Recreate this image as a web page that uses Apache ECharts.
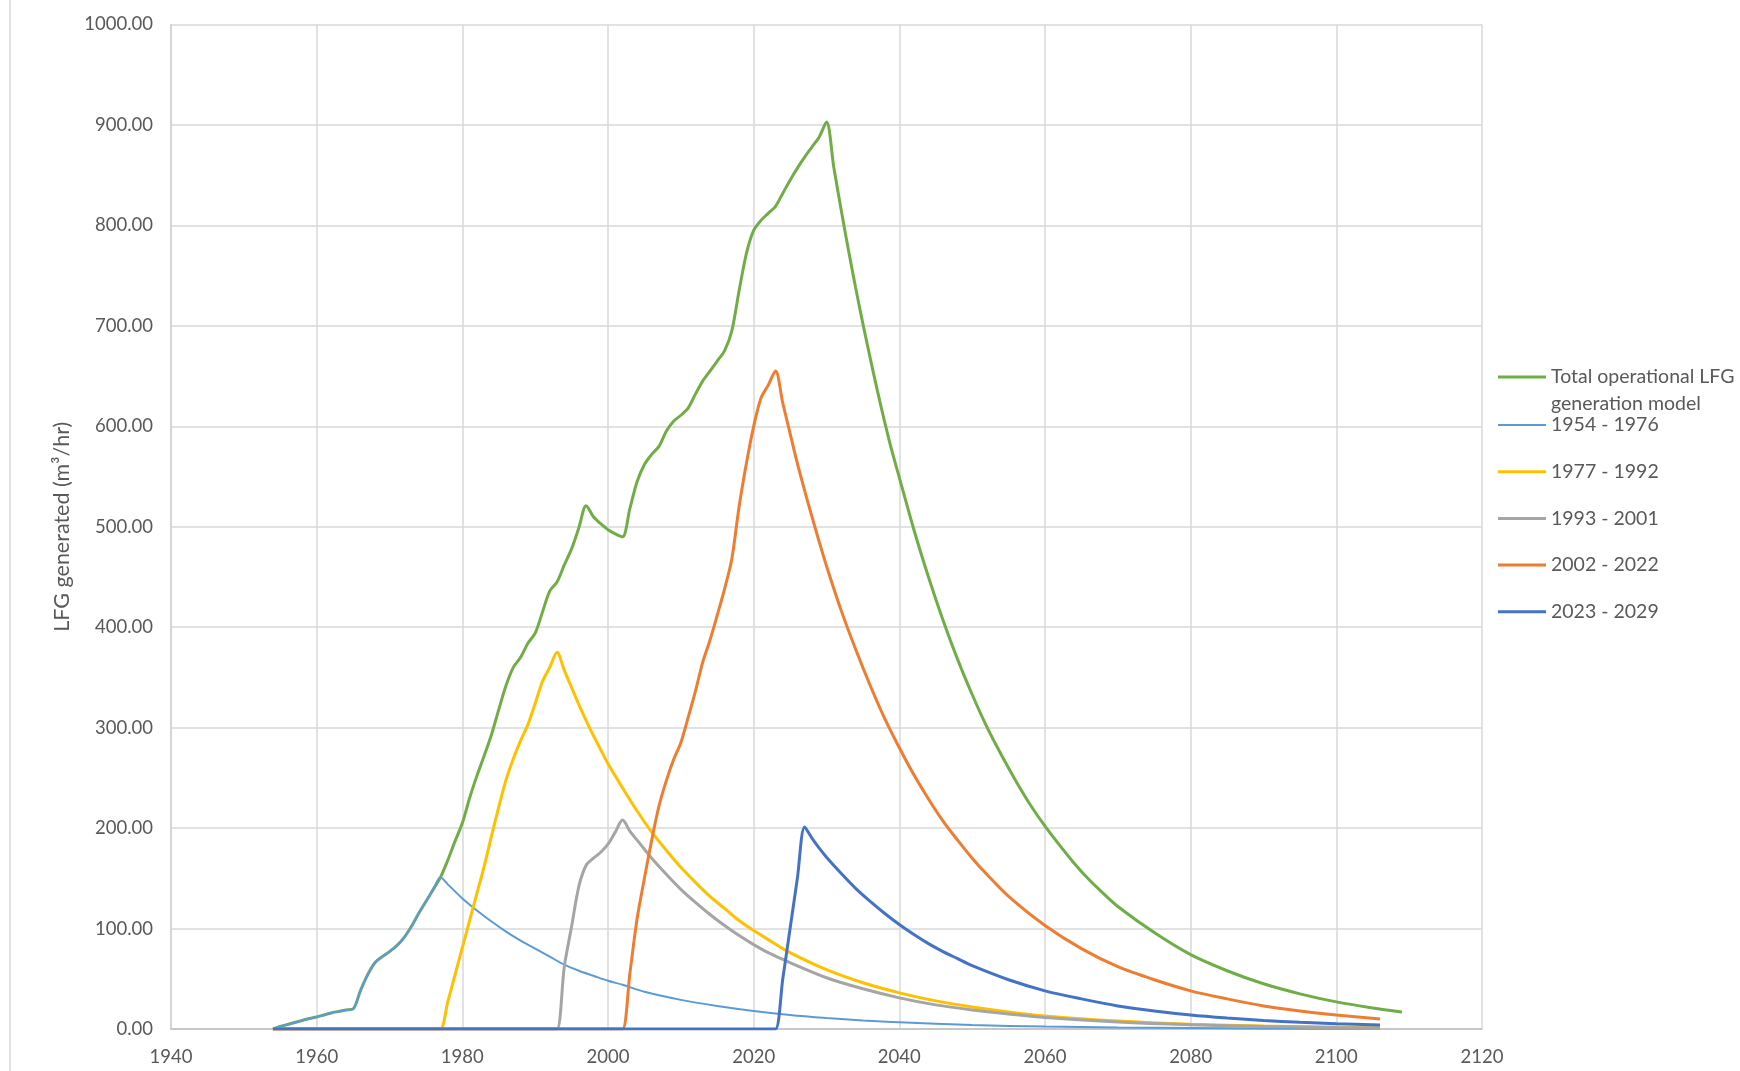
<!DOCTYPE html>
<html>
<head>
<meta charset="utf-8">
<script src="https://cdn.jsdelivr.net/npm/echarts@6/dist/echarts.min.js"></script>
<style>
html,body{margin:0;padding:0;background:#fff;}
#chart{width:1740px;height:1071px;}
</style>
</head>
<body>
<div id="chart"></div>
<script>
// Series names
const seriesNames = ['Total operational LFG generation model', '1954 - 1976', '1977 - 1992', '1993 - 2001', '2002 - 2022', '2023 - 2029'];

// Axis ticks
const xTicks = { min: 1940, max: 2120, step: 20 };
const yTicks = { min: 0, max: 1000, step: 100 };

// [year, m3/hr]
const totalModel = [[1954,0],[1955,2.5],[1956,4.5],[1957,6.5],[1958,8.5],[1959,10.5],[1960,12],[1961,14],[1962,16],[1963,17.5],[1964,19],[1965,20],[1966,38],[1967,54],[1968,66],[1969,72],[1970,77],[1971,83],[1972,91],[1973,102],[1974,115],[1975,127],[1976,139],[1977,151],[1978,168],[1979,187],[1980,205],[1981,230],[1982,252],[1983,272],[1984,293],[1985,318],[1986,342],[1987,360],[1988,370],[1989,384],[1990,394],[1991,415],[1992,436],[1993,445],[1994,462],[1995,478],[1996,499],[1997,521],[1998,510],[1999,503],[2000,497],[2001,493],[2002,490],[2003,518],[2004,545],[2005,562],[2006,572],[2007,580],[2008,595],[2009,605],[2010,611],[2011,618],[2012,632],[2013,645],[2014,655],[2015,665],[2016,675],[2017,695],[2018,735],[2019,772],[2020,795],[2021,805],[2022,812],[2023,819],[2024,832],[2025,845],[2026,857],[2027,868],[2028,878],[2029,888],[2030,903],[2031,858],[2032,816],[2033,776],[2034,738],[2035,702],[2036,668],[2037,635],[2038,604],[2039,575],[2040,549],[2042,497],[2044,450],[2046,407],[2048,368],[2050,333],[2052,301],[2054,273],[2056,247],[2058,223],[2060,202],[2062,183],[2064,165],[2066,149],[2068,135],[2070,122],[2075,96],[2080,74],[2085,58],[2090,45],[2095,35],[2100,27],[2105,21],[2109,17]];

const p1954 = [[1954,0],[1955,2.5],[1956,4.5],[1957,6.5],[1958,8.5],[1959,10.5],[1960,12],[1961,14],[1962,16],[1963,17.5],[1964,19],[1965,20],[1966,38],[1967,54],[1968,66],[1969,72],[1970,77],[1971,83],[1972,91],[1973,102],[1974,115],[1975,127],[1976,139],[1977,151],[1978,144],[1979,137],[1980,130],[1982,118],[1984,107],[1986,97],[1988,88],[1990,80],[1992,72],[1994,64],[1996,58],[1998,53],[2000,48],[2002,44],[2005,37],[2010,29],[2015,23],[2020,18],[2025,14],[2030,11],[2035,8.5],[2040,6.6],[2050,4],[2060,2.4],[2070,1.5],[2080,0.9],[2090,0.5],[2106,0.2]];

const p1977 = [[1954,0],[1976,0],[1977,0],[1978,27],[1979,54],[1980,81],[1981,108],[1982,135],[1983,162],[1984,192],[1985,221],[1986,248],[1987,269],[1988,287],[1989,303],[1990,324],[1991,346],[1992,360],[1993,375],[1994,357],[1995,340],[1996,323],[1997,307],[1998,292],[1999,278],[2000,264],[2002,240],[2004,217],[2006,196],[2008,178],[2010,161],[2012,146],[2014,132],[2016,120],[2018,108],[2020,98],[2022,89],[2025,76],[2030,59],[2035,46],[2040,36],[2045,28],[2050,22],[2055,17],[2060,13],[2070,8],[2080,4.8],[2090,2.9],[2100,1.8],[2106,1.3]];

const p1993 = [[1954,0],[1992,0],[1993,0],[1994,62],[1995,102],[1996,142],[1997,163],[1998,170],[1999,176],[2000,184],[2001,196],[2002,208],[2003,197],[2004,188],[2005,179],[2006,170],[2008,154],[2010,139],[2012,126],[2014,114],[2016,103],[2018,93],[2020,84],[2022,76],[2025,66],[2030,51],[2035,40],[2040,31],[2045,24],[2050,19],[2055,15],[2060,11.5],[2070,7],[2080,4.2],[2090,2.5],[2100,1.5],[2106,1.1]];

const p2002 = [[1954,0],[2001,0],[2002,0],[2003,55],[2004,110],[2005,150],[2006,188],[2007,222],[2008,247],[2009,268],[2010,285],[2011,310],[2012,336],[2013,365],[2014,387],[2015,412],[2016,438],[2017,468],[2018,520],[2019,563],[2020,600],[2021,628],[2022,641],[2023,655],[2024,623],[2025,593],[2026,563],[2027,536],[2028,510],[2029,485],[2030,461],[2032,417],[2034,378],[2036,342],[2038,309],[2040,280],[2042,253],[2044,229],[2046,207],[2048,188],[2050,170],[2052,154],[2055,132],[2060,103],[2065,80],[2070,62],[2075,49],[2080,38],[2085,30],[2090,23],[2095,18],[2100,14],[2106,10]];

const p2023 = [[1954,0],[2022,0],[2023,0],[2024,50],[2025,100],[2026,150],[2027,201],[2028,190],[2029,180],[2030,171],[2032,155],[2034,140],[2036,127],[2038,115],[2040,104],[2042,94],[2044,85],[2046,77],[2048,70],[2050,63],[2055,49],[2060,38],[2065,30],[2070,23],[2075,18],[2080,14],[2085,11],[2090,8.5],[2095,6.6],[2100,5.2],[2106,3.9]];

const seriesData = [totalModel, p1954, p1977, p1993, p2002, p2023];
const colors = ['#70AD47', '#5B9BD5', '#FFC000', '#A5A5A5', '#ED7D31', '#4472C4'];
const widths = [3, 2, 3, 3, 3, 3];

const FONT = 'Lato';
const TXT = '#595959';
const FS = 18.5;
const LFS = 19.5;

const chart = echarts.init(document.getElementById('chart'), null, {renderer: 'canvas'});

const series = seriesNames.map((name, i) => ({
  name: name,
  type: 'line',
  data: seriesData[i],
  smooth: 0.3,
  symbol: 'none',
  showSymbol: false,
  lineStyle: { color: colors[i], width: widths[i] },
  itemStyle: { color: colors[i] },
  z: 2 + i,
  animation: false
}));

const lineIcon = w => 'path://M0,0L48,0L48,' + w + 'L0,' + w + 'Z';
const legendItem = i => ({ name: seriesNames[i], icon: lineIcon(widths[i]), itemStyle: { color: colors[i] } });

const option = {
  animation: false,
  backgroundColor: '#ffffff',
  textStyle: { fontFamily: FONT },
  grid: { left: 171, right: 258, top: 24.5, bottom: 42, containLabel: false },
  xAxis: {
    type: 'value',
    min: xTicks.min, max: xTicks.max, interval: xTicks.step,
    axisLine: { show: true, lineStyle: { color: '#bfbfbf', width: 1.5 } },
    axisTick: { show: false },
    axisLabel: { color: TXT, fontSize: FS, fontFamily: FONT, margin: 19,
      formatter: v => String(v) },
    splitLine: { show: true, lineStyle: { color: '#d9d9d9', width: 1.5 } }
  },
  yAxis: {
    type: 'value',
    min: yTicks.min, max: yTicks.max, interval: yTicks.step,
    name: 'LFG generated (m³/hr)',
    nameLocation: 'middle',
    nameGap: 97,
    nameRotate: 90,
    nameTextStyle: { color: TXT, fontSize: 21.5, fontFamily: FONT },
    axisLine: { show: true, lineStyle: { color: '#d0d0d0', width: 1.5 } },
    axisTick: { show: false },
    axisLabel: { color: TXT, fontSize: FS, fontFamily: FONT, margin: 18,
      formatter: v => v.toFixed(2) },
    splitLine: { show: true, lineStyle: { color: '#d9d9d9', width: 1.5 } }
  },
  legend: [
    {
      data: [legendItem(0)],
      left: 1498, top: 366, padding: 0,
      orient: 'vertical',
      itemWidth: 48, itemHeight: 3,
      symbolKeepAspect: true,
      formatter: () => 'Total operational LFG',
      textStyle: { color: TXT, fontSize: LFS, fontFamily: FONT, lineHeight: 22 },
      selectedMode: false
    },
    {
      data: [1, 2, 3, 4, 5].map(legendItem),
      left: 1498, top: 414, padding: 0,
      orient: 'vertical',
      itemWidth: 48, itemHeight: 3,
      symbolKeepAspect: true,
      itemGap: 24.7,
      textStyle: { color: TXT, fontSize: LFS, fontFamily: FONT, lineHeight: 22 },
      selectedMode: false
    }
  ],
  graphic: [
    {
      type: 'text',
      left: 1551, top: 394,
      style: { text: 'generation model', fill: TXT, font: LFS + 'px ' + FONT }
    },
    {
      type: 'line',
      shape: { x1: 10, y1: 0, x2: 10, y2: 1071 },
      style: { stroke: '#d9d9d9', lineWidth: 1.5 }
    }
  ],
  series: series
};

chart.setOption(option);
</script>
</body>
</html>
